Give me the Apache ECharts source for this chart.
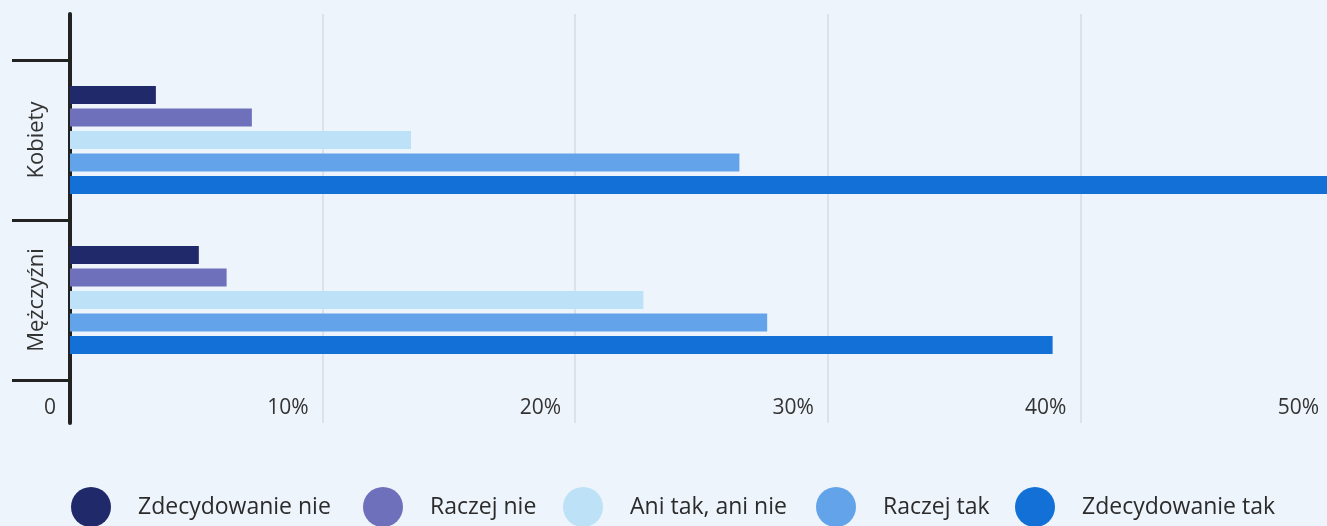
<!DOCTYPE html>
<html>
<head>
<meta charset="utf-8">
<script src="https://cdn.jsdelivr.net/npm/echarts@6/dist/echarts.min.js"></script>
<style>
    html, body { margin: 0; padding: 0; background: #eef4fb; overflow: hidden; }
    #chart { width: 1340px; height: 526px; }
</style>
</head>
<body>
<div id="chart"></div>
<script>
    // kategorie (od góry)
    var categories = ['Kobiety', 'Mężczyźni'];
    var seriesNames = ['Zdecydowanie nie', 'Raczej nie', 'Ani tak, ani nie', 'Raczej tak', 'Zdecydowanie tak'];
    var zdecydowanieNie = [3.4, 5.1];
    var raczejNie = [7.2, 6.2];
    var aniTakAniNie = [13.5, 22.7];
    var raczejTak = [26.5, 27.6];
    var zdecydowanieTak = [50, 38.9];
    var xTickLabels = ['0', '10%', '20%', '30%', '40%', '50%'];

    var colors = ['#202a6a', '#6f70bb', '#bde2f7', '#62a3ea', '#1270d6'];
    var values = [zdecydowanieNie, raczejNie, aniTakAniNie, raczejTak, zdecydowanieTak];
    var font = '"Open Sans", sans-serif';

    var series = [];
    seriesNames.forEach(function (name, i) {
        series.push({
            name: name,
            type: 'bar',
            xAxisIndex: 1,
            yAxisIndex: 1,
            barWidth: 18,
            barGap: '25%',
            itemStyle: { color: colors[i] },
            data: values[i]
        });
    });

    // legenda: osobny komponent dla kazdej pozycji
    var legendLeft = [66, 358, 558, 811, 1010];
    var legends = seriesNames.map(function (name, i) {
        return {
            data: [name],
            left: legendLeft[i],
            top: 482,
            icon: 'circle',
            itemWidth: 40,
            itemHeight: 40,
            textStyle: {
                fontFamily: font,
                fontSize: 23,
                color: '#2b2b2b',
                padding: [0, 0, 0, 22]
            }
        };
    });

    // kontener jest szerszy od okna, 50% wypada tuz za prawa krawedzia
    var option = {
        backgroundColor: '#eef4fb',
        animation: false,
        legend: legends,
        grid: [
            { left: 70, right: 7, top: 14, bottom: 103 },
            { left: 70, right: 7, top: 60, bottom: 146 }
        ],
        xAxis: [
            {
                gridIndex: 0,
                type: 'value',
                min: 0,
                max: 50,
                interval: 10,
                axisLine: { show: false },
                axisTick: { show: false },
                splitLine: { show: true, lineStyle: { color: '#d6dce3', width: 1.5 } },
                axisLabel: {
                    inside: true,
                    margin: 15,
                    align: 'right',
                    verticalAlign: 'middle',
                    padding: [0, 14, 0, 0],
                    fontFamily: font,
                    fontSize: 21,
                    color: '#333',
                    formatter: function (v) { return xTickLabels[Math.round(v / 10)]; }
                }
            },
            {
                gridIndex: 1,
                type: 'value',
                min: 0,
                max: 50,
                show: false
            }
        ],
        yAxis: [
            {
                gridIndex: 0,
                type: 'value',
                axisLine: { show: true, lineStyle: { color: '#222', width: 4 } },
                axisTick: { show: false },
                axisLabel: { show: false },
                splitLine: { show: false }
            },
            {
                gridIndex: 1,
                type: 'category',
                inverse: true,
                data: categories,
                axisLine: { show: false },
                axisTick: { show: true, length: 58, lineStyle: { color: '#222', width: 3 } },
                axisLabel: {
                    rotate: 90,
                    margin: 33,
                    align: 'center',
                    verticalAlign: 'middle',
                    fontFamily: font,
                    fontSize: 22,
                    color: '#333'
                }
            }
        ],
        series: series
    };

    var chart = echarts.init(document.getElementById('chart'));
    chart.setOption(option);
</script>
</body>
</html>
